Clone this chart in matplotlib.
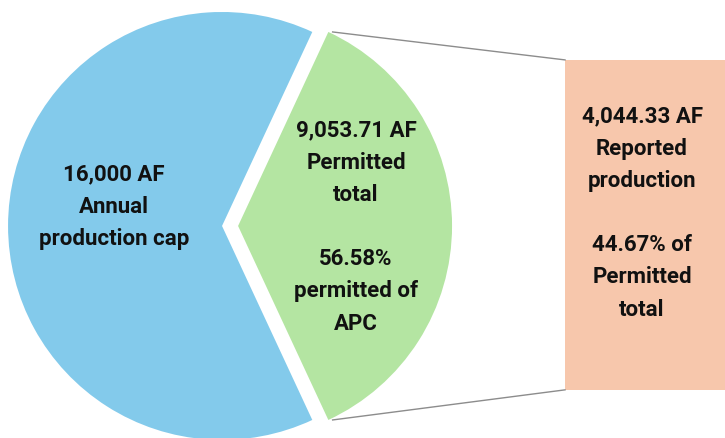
import matplotlib.pyplot as plt
import numpy as np

# values
slice_names = ["Permitted total", "Annual production cap"]
slice_values = [9053.71, 16000]
slice_colors = ["#B4E5A2", "#83CAEB"]

cap_label = "16,000 AF\nAnnual\nproduction cap"
permit_label = "9,053.71 AF\nPermitted\ntotal\n\n56.58%\npermitted of\nAPC"
report_label = "4,044.33 AF\nReported\nproduction\n\n44.67% of\nPermitted\ntotal"

plt.rcParams['font.family'] = ['Roboto', 'DejaVu Sans']

fig = plt.figure(figsize=(7.25, 4.38), dpi=100)
ax = fig.add_axes([0, 0, 1, 1])

green_share = slice_values[0] / sum(slice_values)
wedges, _ = ax.pie(slice_values, colors=slice_colors, explode=[0.075, 0],
                   startangle=-180 * green_share, radius=1.0,
                   wedgeprops=dict(linewidth=0))

ax.set_xlim(-1.037, 2.350)
ax.set_ylim(-0.991, 1.056)
ax.set_aspect('equal')
ax.axis('off')

# the detail box
box_left, box_right = 1.603, 2.45
box_bottom, box_top = -0.766, 0.776
ax.bar([(box_left + box_right) / 2], [box_top - box_bottom], bottom=box_bottom,
       width=box_right - box_left, color="#F7C7AC", linewidth=0)

# connector lines from the green wedge to the box
g = wedges[0]
cx, cy = g.center
for ang, ybox in [(g.theta2, box_top), (g.theta1, box_bottom)]:
    px = cx + g.r * np.cos(np.radians(ang))
    py = cy + g.r * np.sin(np.radians(ang))
    ax.plot([px + 0.02, box_left], [py, ybox], color="#8C8C8C", linewidth=1.0)

txt = dict(ha='center', va='center', fontsize=16, fontweight='bold',
           color="#111111", linespacing=1.6)
ax.text(-0.505, 0.089, cap_label, **txt)
ax.text(0.626, -0.005, permit_label, **txt)
ax.text(1.963, 0.061, report_label, **txt)

fig.savefig("out.png", dpi=100)
